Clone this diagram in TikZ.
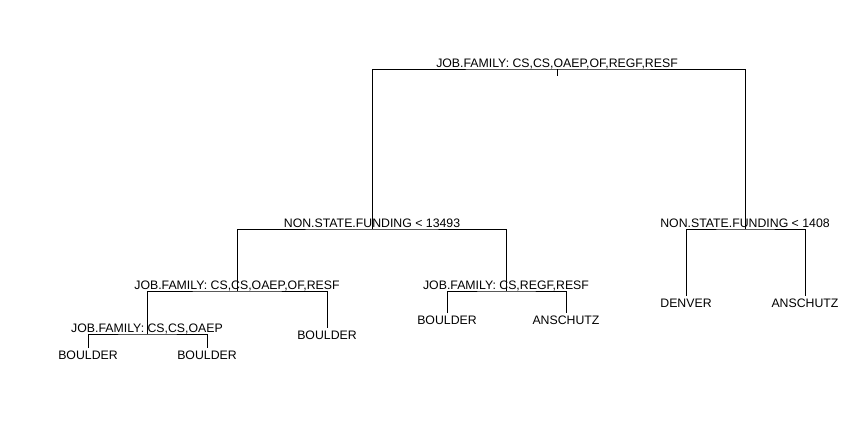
\documentclass[tikz,border=0pt]{standalone}
\usepackage{fontspec}
\setmainfont{Liberation Sans}

\begin{document}
\begin{tikzpicture}[x=1pt,y=-1pt,line cap=butt,line join=miter,
  font=\fontsize{12.3}{14}\selectfont,
  split/.style={anchor=base,inner sep=0pt},
  leaf/.style={anchor=north,inner sep=2.5pt},
  branch/.style={line width=1pt}]
  \useasboundingbox[fill=white] (0,0) rectangle (864,432);
  % splits
  \coordinate (job1) at (557,69);
  \coordinate (fund1) at (372,229);
  \coordinate (fund2) at (745,229);
  \coordinate (job2) at (237,291);
  \coordinate (job3) at (506,291);
  \coordinate (job4) at (147,334);
  % leaves
  \coordinate (boul1) at (88,348);
  \coordinate (boul2) at (207,348);
  \coordinate (boul3) at (327,328);
  \coordinate (boul4) at (447,313);
  \coordinate (ansc1) at (566,313);
  \coordinate (denv1) at (686,296);
  \coordinate (ansc2) at (805,296);
  % branches
  \draw[branch] (job1) -- ++(0,7);
  \draw[branch] (fund1) |- (job1) -| (fund2);
  \draw[branch] (job2) |- (fund1) -| (job3);
  \draw[branch] (denv1) |- (fund2) -| (ansc2);
  \draw[branch] (job4) |- (job2) -| (boul3);
  \draw[branch] (boul4) |- (job3) -| (ansc1);
  \draw[branch] (boul1) |- (job4) -| (boul2);
  % split labels
  \path (job1) ++(0,-2) node[split] (tjob1) {JOB.FAMILY: CS,CS,OAEP,OF,REGF,RESF};
  \path (fund1) ++(0,-2) node[split] (tfund1) {NON.STATE.FUNDING < 13493};
  \path (fund2) ++(0,-2) node[split] (tfund2) {NON.STATE.FUNDING < 1408};
  \path (job2) ++(0,-2) node[split] (tjob2) {JOB.FAMILY: CS,CS,OAEP,OF,RESF};
  \path (job3) ++(0,-2) node[split] (tjob3) {JOB.FAMILY: CS,REGF,RESF};
  \path (job4) ++(0,-2) node[split] (tjob4) {JOB.FAMILY: CS,CS,OAEP};
  % leaf labels
  \node[leaf] (tboul1) at (boul1) {BOULDER};
  \node[leaf] (tboul2) at (boul2) {BOULDER};
  \node[leaf] (tboul3) at (boul3) {BOULDER};
  \node[leaf] (tboul4) at (boul4) {BOULDER};
  \node[leaf] (tansc1) at (ansc1) {ANSCHUTZ};
  \node[leaf] (tdenv1) at (denv1) {DENVER};
  \node[leaf] (tansc2) at (ansc2) {ANSCHUTZ};
\end{tikzpicture}
\end{document}
